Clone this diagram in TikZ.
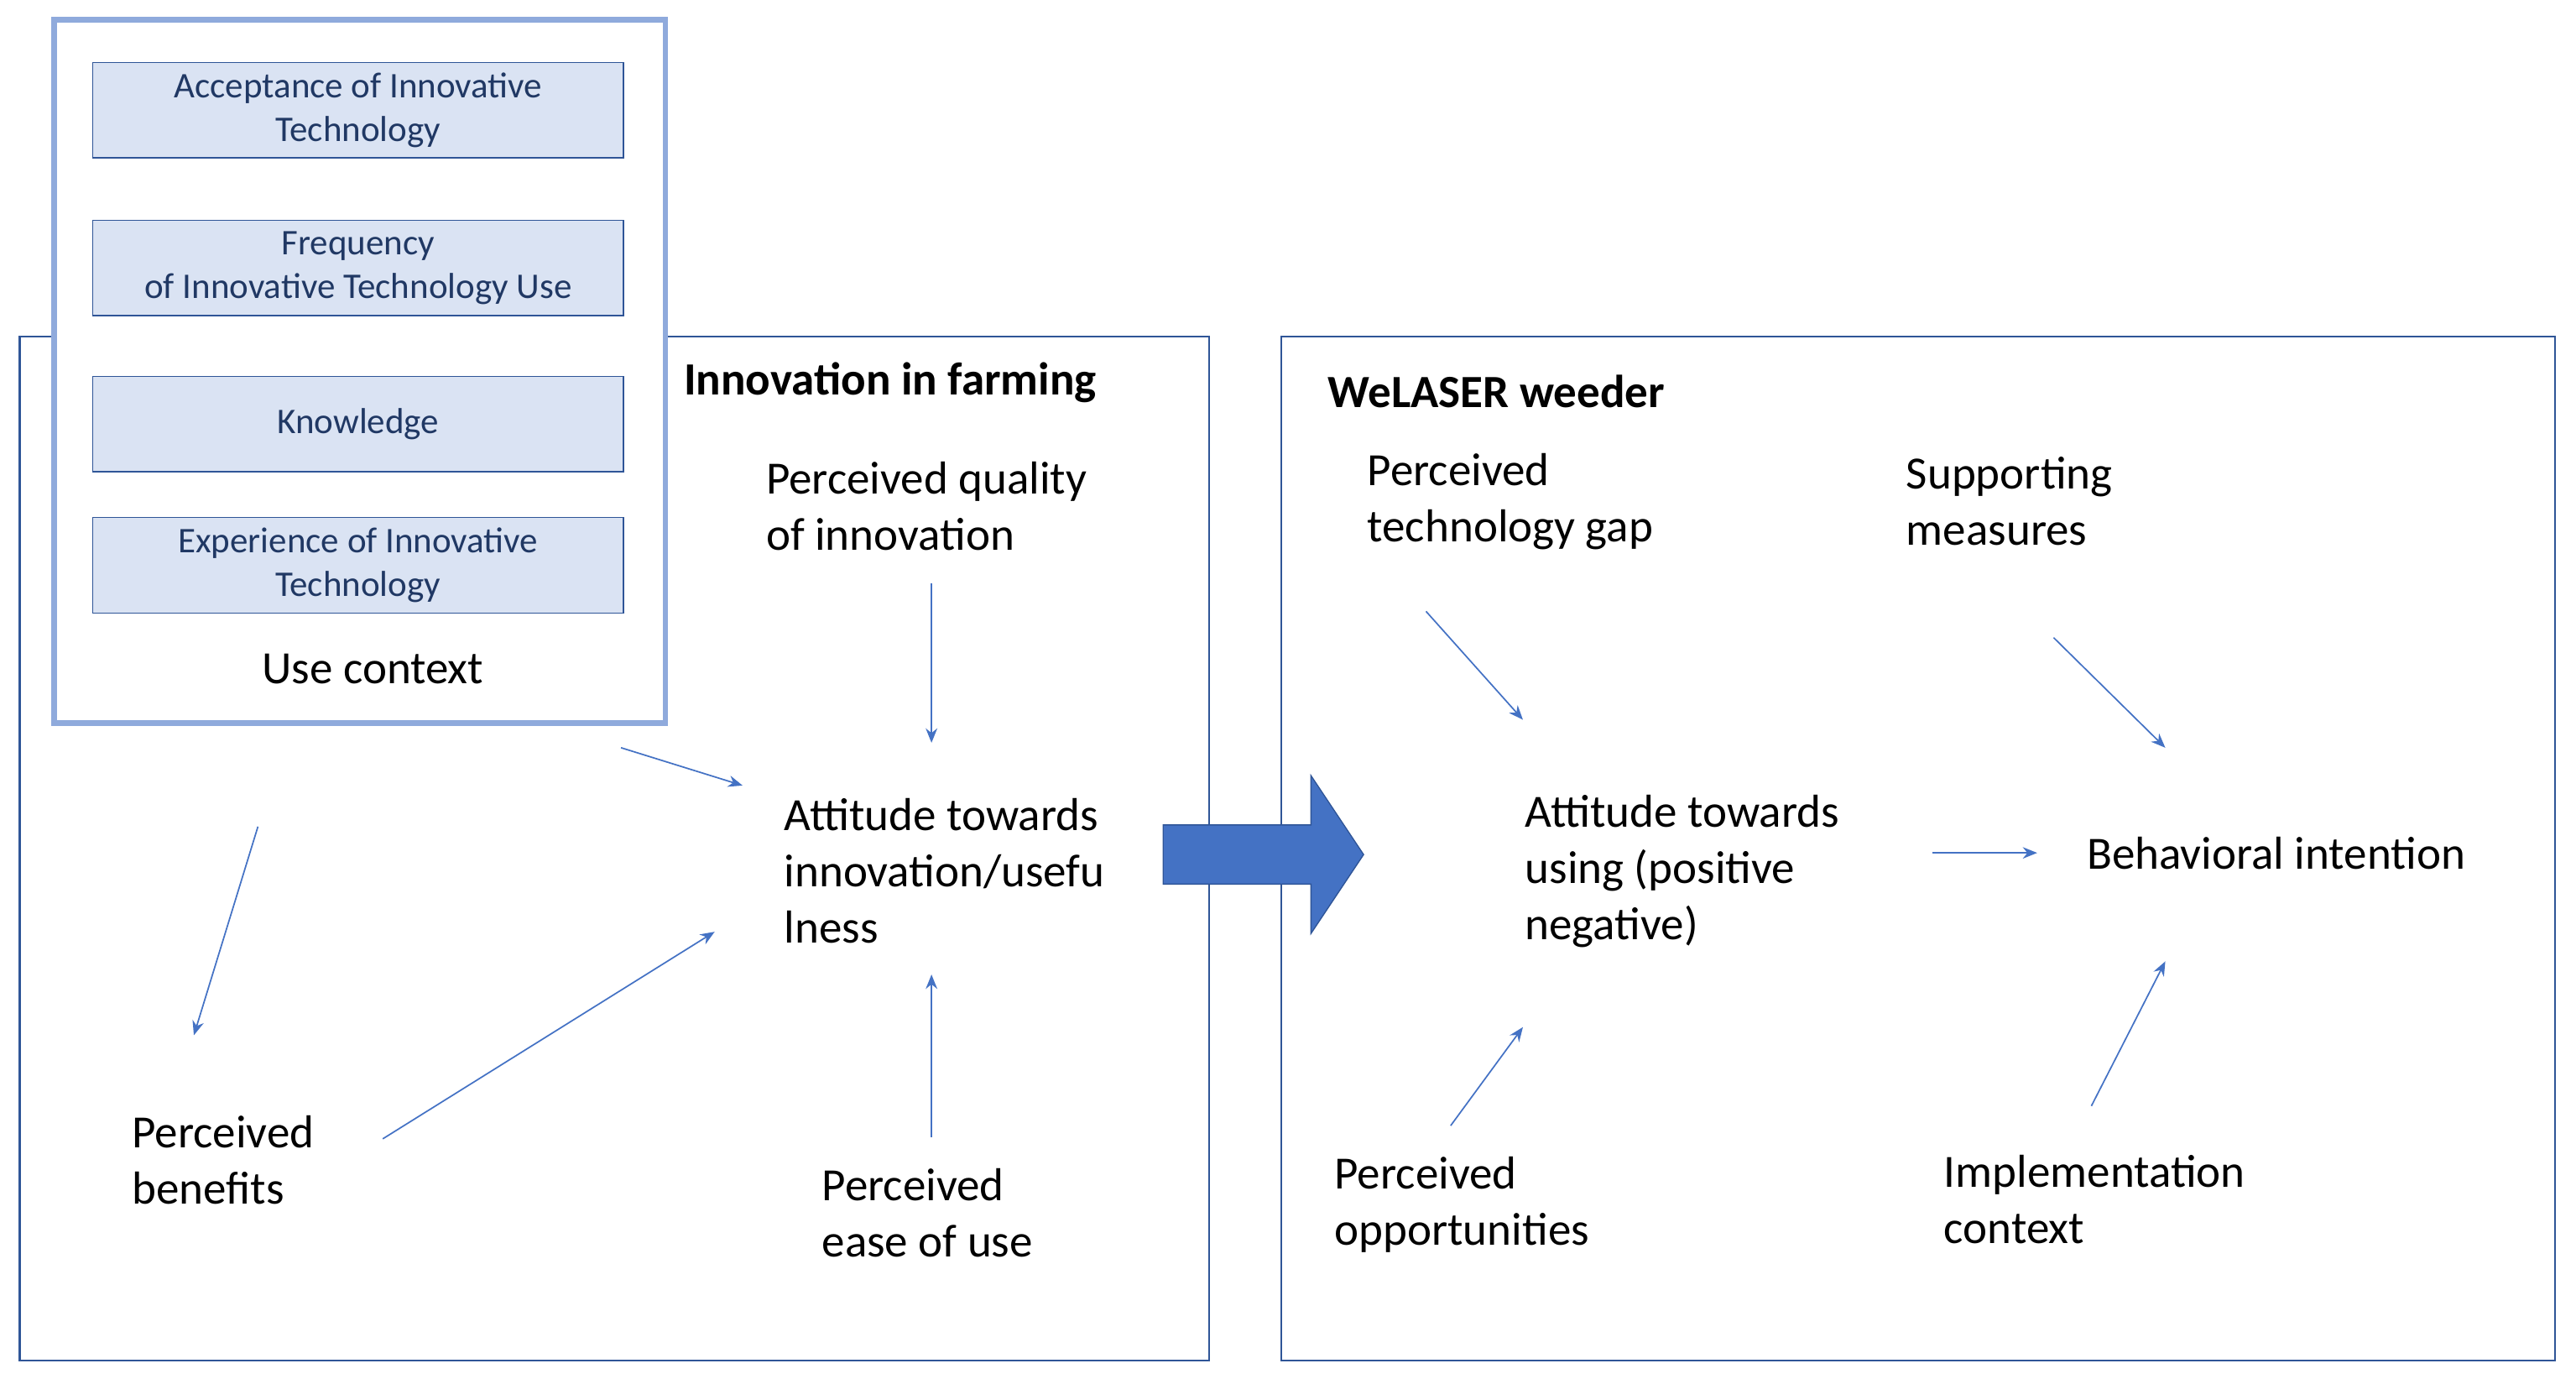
\documentclass[tikz,border=0pt]{standalone}
\usepackage{fontspec}
\setmainfont{Carlito}
\usetikzlibrary{arrows.meta,positioning,shapes.arrows}
\definecolor{arrowblue}{HTML}{4472C4}
\definecolor{framegrey}{HTML}{2F5597}
\definecolor{ctxblue}{HTML}{8FAADC}
\definecolor{boxfill}{HTML}{DAE3F3}
\definecolor{boxtext}{HTML}{203864}

\begin{document}
\begin{tikzpicture}[
    x=0.02cm, y=-0.02cm,
    frame/.style={draw=framegrey, line width=0.6pt},
    item/.style={draw=framegrey, fill=boxfill, text=boxtext, minimum width=6.46cm, minimum height=1.16cm, align=center, font=\fontsize{12.5}{15}\selectfont, inner sep=0pt},
    label/.style={anchor=west, align=left, font=\fontsize{16}{19.5}\selectfont, inner sep=0pt},
    head/.style={anchor=west, font=\fontsize{16}{19.5}\selectfont\bfseries, inner sep=0pt},
    link/.style={-{Stealth[length=5pt,width=4pt]}, draw=arrowblue, line width=0.5pt}
]
\useasboundingbox (0,0) rectangle (1568,839);

% Frames
\draw[frame] (12,205) rectangle (736,828);
\draw[frame] (780,205) rectangle (1555,828);

% Use context
\draw[draw=ctxblue, line width=2pt, fill=white] (33,12) rectangle (405,440);
\node[item] (accept) at (218,67) {Acceptance of Innovative\\Technology};
\node[item] (freq) at (218,163) {Frequency\\of Innovative Technology Use};
\node[item] (know) at (218,258) {Knowledge};
\node[item] (exper) at (218,344) {Experience of Innovative\\Technology};
\node[font=\fontsize{16}{19.5}\selectfont] (context) at (227,407) {Use context};

% Innovation in farming
\node[head] (farming) at (416,233) {Innovation in farming};
\node[label] (quality) at (466,308) {Perceived quality\\of innovation};
\node[label] (attitude) at (477,530) {Attitude towards\\innovation/usefu\\lness};
\node[label] (benefits) at (80,706) {Perceived\\benefits};
\node[label] (ease) at (500,738) {Perceived\\ease of use};

% WeLASER weeder
\node[head] (weeder) at (808,238) {WeLASER weeder};
\node[label] (gap) at (832,305) {Perceived\\technology gap};
\node[label] (support) at (1160,305) {Supporting\\measures};
\node[label] (using) at (928,530) {Attitude towards\\using (positive\\negative)};
\node[label] (intention) at (1270,519) {Behavioral intention};
\node[label] (opport) at (812,733) {Perceived\\opportunities};
\node[label] (implem) at (1183,730) {Implementation\\context};

% Arrow ends
\coordinate (c1) at (378,455); \coordinate (c2) at (452,478);
\coordinate (c3) at (157,503); \coordinate (c4) at (118,630);
\coordinate (c5) at (233,693); \coordinate (c6) at (435,567);
\coordinate (c7) at (567,355); \coordinate (c8) at (567,452);
\coordinate (c9) at (567,692); \coordinate (c10) at (567,593);
\coordinate (d1) at (868,372); \coordinate (d2) at (927,438);
\coordinate (d3) at (1250,388); \coordinate (d4) at (1318,455);
\coordinate (d5) at (1176,519); \coordinate (d6) at (1240,519);
\coordinate (d7) at (883,685); \coordinate (d8) at (927,625);
\coordinate (d9) at (1273,673); \coordinate (d10) at (1318,585);

\foreach \a/\b in {c1/c2,c3/c4,c5/c6,c7/c8,c9/c10,d1/d2,d3/d4,d5/d6,d7/d8,d9/d10}
    \draw[link] (\a) -- (\b);

% Big arrow
\fill[arrowblue, draw=framegrey, line width=0.4pt] (708,502) -- (798,502) -- (798,472) -- (830,520) -- (798,568) -- (798,538) -- (708,538) -- cycle;

\end{tikzpicture}
\end{document}
